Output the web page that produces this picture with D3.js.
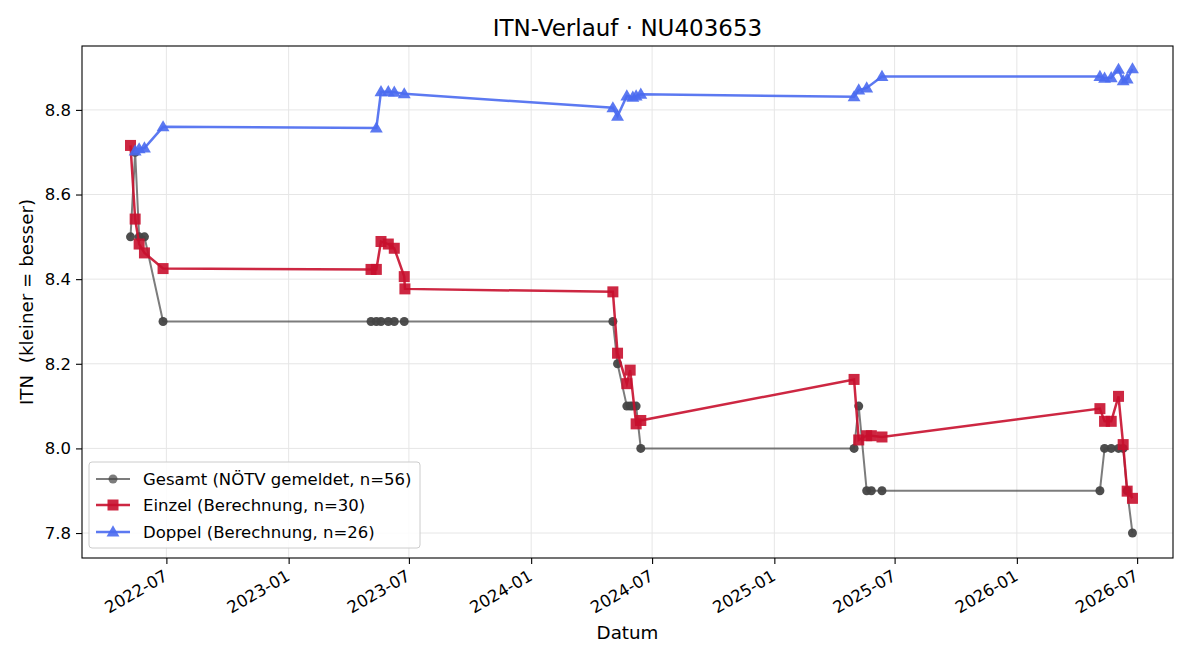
<!DOCTYPE html>
<html>
<head>
<meta charset="utf-8">
<script src="https://cdn.jsdelivr.net/npm/d3@7"></script>
<style>
  html, body { margin: 0; padding: 0; background: #fff; }
  svg { display: block; font-family: "DejaVu Sans", sans-serif; }
  svg text { font-family: "DejaVu Sans", sans-serif; white-space: pre; }
</style>
</head>
<body>
<svg id="chart" width="1200" height="660"></svg>
<script>
// ---- data ----
const gesamtDates = [
  "2022-05-08","2022-05-15","2022-05-21","2022-05-29","2022-06-26",
  "2023-05-05","2023-05-13","2023-05-20","2023-05-31","2023-06-09","2023-06-24",
  "2024-05-03","2024-05-10","2024-05-24","2024-05-29","2024-06-02","2024-06-07","2024-06-14",
  "2025-05-01","2025-05-08","2025-05-20","2025-05-27","2025-06-12",
  "2026-05-06","2026-05-13","2026-05-23","2026-06-03","2026-06-10","2026-06-16","2026-06-24"
];
const gesamtValues = [
  8.5, 8.7, 8.5, 8.5, 8.3,
  8.3, 8.3, 8.3, 8.3, 8.3, 8.3,
  8.3, 8.2, 8.1, 8.1, 8.1, 8.1, 8.0,
  8.0, 8.1, 7.9, 7.9, 7.9,
  7.9, 8.0, 8.0, 8.0, 8.0, 7.9, 7.8
];
const einzelDates = [
  "2022-05-08","2022-05-15","2022-05-21","2022-05-29","2022-06-26",
  "2023-05-05","2023-05-13","2023-05-20","2023-05-31","2023-06-09","2023-06-24","2023-06-25",
  "2024-05-03","2024-05-10","2024-05-24","2024-05-29","2024-06-07","2024-06-14",
  "2025-05-01","2025-05-08","2025-05-20","2025-05-27","2025-06-12",
  "2026-05-06","2026-05-13","2026-05-23","2026-06-03","2026-06-10","2026-06-16","2026-06-24"
];
const einzelValues = [
  8.716, 8.542, 8.483, 8.462, 8.425,
  8.423, 8.423, 8.489, 8.483, 8.473, 8.406, 8.377,
  8.370, 8.225, 8.153, 8.185, 8.058, 8.066,
  8.163, 8.020, 8.030, 8.030, 8.027,
  8.094, 8.064, 8.064, 8.123, 8.009, 7.899, 7.882
];
const doppelDates = [
  "2022-05-15","2022-05-21","2022-05-29","2022-06-26",
  "2023-05-13","2023-05-20","2023-05-31","2023-06-09","2023-06-24",
  "2024-05-03","2024-05-10","2024-05-24","2024-06-02","2024-06-07","2024-06-14",
  "2025-05-01","2025-05-08","2025-05-20","2025-06-12",
  "2026-05-06","2026-05-13","2026-05-23","2026-06-03","2026-06-10","2026-06-16","2026-06-24"
];
const doppelValues = [
  8.703, 8.708, 8.710, 8.760,
  8.757, 8.843, 8.843, 8.842, 8.838,
  8.805, 8.785, 8.833, 8.830, 8.833, 8.837,
  8.831, 8.847, 8.852, 8.879,
  8.879, 8.875, 8.876, 8.896, 8.869, 8.873, 8.897
];
const yTicks = [7.8, 8.0, 8.2, 8.4, 8.6, 8.8];
const xTickDates = ["2022-07-01","2023-01-01","2023-07-01","2024-01-01","2024-07-01","2025-01-01","2025-07-01","2026-01-01","2026-07-01"];
const seriesLabels = ["Gesamt (NÖTV gemeldet, n=56)", "Einzel (Berechnung, n=30)", "Doppel (Berechnung, n=26)"];
const titleText = "ITN-Verlauf · NU403653";
const xLabel = "Datum";
const yLabel = "ITN  (kleiner = besser)";

// ---- layout ----
const parse = d3.utcParse("%Y-%m-%d");
const M = { left: 82, top: 46, right: 1173, bottom: 558 };
const svg = d3.select("#chart");
const FONT = "DejaVu Sans, sans-serif";

const x = d3.scaleUtc()
  .domain([parse("2022-02-24"), parse("2026-08-24")])
  .range([M.left, M.right]);
const y = d3.scaleLinear()
  .domain([7.741, 8.951])
  .range([M.bottom, M.top]);

const zip = (ds, vs) => ds.map((d, i) => ({ date: parse(d), value: vs[i] }));
const gesamt = zip(gesamtDates, gesamtValues);
const einzel = zip(einzelDates, einzelValues);
const doppel = zip(doppelDates, doppelValues);

// grid
const gridColor = "#e6e6e6";
svg.append("g").selectAll("line").data(xTickDates.map(parse)).join("line")
  .attr("x1", d => x(d)).attr("x2", d => x(d))
  .attr("y1", M.top).attr("y2", M.bottom)
  .attr("stroke", gridColor).attr("stroke-width", 1);
svg.append("g").selectAll("line").data(yTicks).join("line")
  .attr("x1", M.left).attr("x2", M.right)
  .attr("y1", d => y(d)).attr("y2", d => y(d))
  .attr("stroke", gridColor).attr("stroke-width", 1);

// axes
const xAxis = d3.axisBottom(x)
  .tickValues(xTickDates.map(parse))
  .tickFormat(d3.utcFormat("%Y-%m"))
  .tickSizeOuter(0).tickSize(6).tickPadding(5);
const gx = svg.append("g").attr("transform", `translate(0,${M.bottom})`).call(xAxis)
  .attr("font-family", FONT).attr("font-size", 16.5);
gx.select(".domain").remove();
gx.selectAll("line").attr("stroke-width", 1.1);
gx.selectAll("text")
  .attr("fill", "#000")
  .attr("text-anchor", "end")
  .attr("x", -4).attr("y", 11)
  .attr("dy", "0.72em")
  .attr("transform", "rotate(-30, -4, 11)");

const yAxis = d3.axisLeft(y).tickValues(yTicks).tickFormat(d3.format(".1f"))
  .tickSizeOuter(0).tickSize(6).tickPadding(5);
const gy = svg.append("g").attr("transform", `translate(${M.left},0)`).call(yAxis)
  .attr("font-family", FONT).attr("font-size", 16.5);
gy.select(".domain").remove();
gy.selectAll("line").attr("stroke-width", 1.1);
gy.selectAll("text").attr("fill", "#000");

// frame
svg.append("rect")
  .attr("x", M.left).attr("y", M.top)
  .attr("width", M.right - M.left).attr("height", M.bottom - M.top)
  .attr("fill", "none").attr("stroke", "#000").attr("stroke-width", 1.1);

// lines
const line = d3.line().x(d => x(d.date)).y(d => y(d.value));
const colors = { gesamt: "#444444", einzel: "#c8102e", doppel: "#4a6af0" };

const plot = svg.append("g");
// gesamt
plot.append("path").datum(gesamt).attr("d", line)
  .attr("fill", "none").attr("stroke", colors.gesamt).attr("stroke-opacity", 0.7).attr("stroke-width", 2);
plot.append("g").selectAll("circle").data(gesamt).join("circle")
  .attr("cx", d => x(d.date)).attr("cy", d => y(d.value)).attr("r", 4.5)
  .attr("fill", colors.gesamt).attr("fill-opacity", 0.95);
// einzel
plot.append("path").datum(einzel).attr("d", line)
  .attr("fill", "none").attr("stroke", colors.einzel).attr("stroke-opacity", 0.9).attr("stroke-width", 2.5);
plot.append("g").selectAll("rect").data(einzel).join("rect")
  .attr("x", d => x(d.date) - 5.5).attr("y", d => y(d.value) - 5.5)
  .attr("width", 11).attr("height", 11)
  .attr("fill", colors.einzel).attr("fill-opacity", 0.9);
// doppel
plot.append("path").datum(doppel).attr("d", line)
  .attr("fill", "none").attr("stroke", colors.doppel).attr("stroke-opacity", 0.9).attr("stroke-width", 2.5);
const tri = d3.symbol().type(d3.symbolTriangle).size(72);
plot.append("g").selectAll("path").data(doppel).join("path")
  .attr("d", tri)
  .attr("transform", d => `translate(${x(d.date)},${y(d.value) + 0.8})`)
  .attr("fill", colors.doppel).attr("fill-opacity", 0.9);

// title & labels
svg.append("text").attr("x", (M.left + M.right) / 2).attr("y", 36)
  .attr("text-anchor", "middle").attr("font-size", 23).attr("fill", "#000").text(titleText);
svg.append("text").attr("x", (M.left + M.right) / 2).attr("y", 639)
  .attr("text-anchor", "middle").attr("font-size", 18.3).attr("fill", "#000").text(xLabel);
svg.append("text").attr("transform", `translate(33,${(M.top + M.bottom) / 2}) rotate(-90)`)
  .attr("text-anchor", "middle").attr("font-size", 18.3).attr("fill", "#000")
  .attr("xml:space", "preserve").text(yLabel);

// legend
const lg = svg.append("g");
lg.append("rect").attr("x", 89).attr("y", 462).attr("width", 331).attr("height", 86)
  .attr("rx", 3).attr("fill", "#fff").attr("fill-opacity", 0.85)
  .attr("stroke", "#cccccc").attr("stroke-width", 1);
const rowsY = [479, 505, 532];
const keys = ["gesamt", "einzel", "doppel"];
keys.forEach((k, i) => {
  const yy = rowsY[i];
  lg.append("line").attr("x1", 96).attr("x2", 130).attr("y1", yy).attr("y2", yy)
    .attr("stroke", colors[k]).attr("stroke-width", k === "gesamt" ? 2 : 2.5)
    .attr("stroke-opacity", k === "gesamt" ? 0.7 : 0.9);
  if (k === "gesamt") {
    lg.append("circle").attr("cx", 113).attr("cy", yy).attr("r", 4.5).attr("fill", colors[k]).attr("fill-opacity", 0.7);
  } else if (k === "einzel") {
    lg.append("rect").attr("x", 107.5).attr("y", yy - 5.5).attr("width", 11).attr("height", 11).attr("fill", colors[k]).attr("fill-opacity", 0.9);
  } else {
    lg.append("path").attr("d", tri).attr("transform", `translate(113,${yy + 0.8})`).attr("fill", colors[k]).attr("fill-opacity", 0.9);
  }
  lg.append("text").attr("x", 143).attr("y", yy + 6).attr("font-size", 16.5).attr("fill", "#000").text(seriesLabels[i]);
});
</script>
</body>
</html>
